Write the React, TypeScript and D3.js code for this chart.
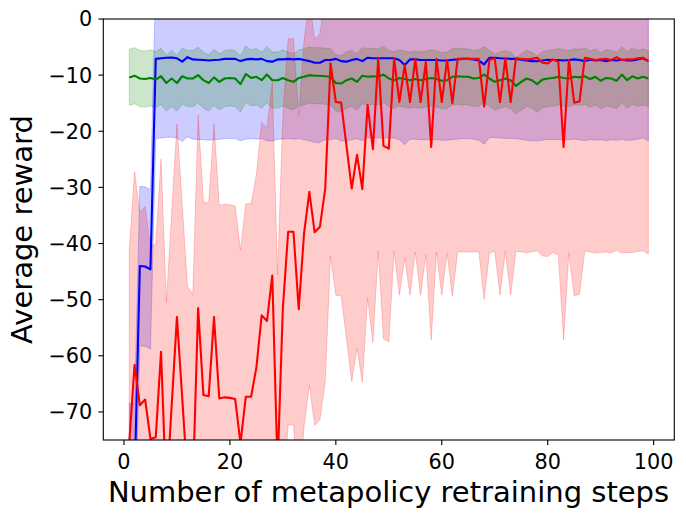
import * as d3 from 'd3';

// metapolicy retraining steps 1..99
const steps = d3.range(1, 100);

const redMean = [
  -75.5, -61.6, -68.8, -67.8, -74.8, -74.5, -59.3, -84.9, -69.0, -53.1,
  -67.5, -82.0, -83.5, -51.5, -67.0, -67.2, -53.1, -67.6, -67.4, -67.5,
  -67.7, -75.6, -67.3, -67.3, -62.1, -52.8, -53.8, -45.7, -80.0, -51.5,
  -37.9, -37.9, -51.7, -38.2, -30.8, -38.0, -37.0, -30.2, -7.9, -14.8,
  -14.9, -22.5, -30.2, -24.2, -30.3, -15.3, -23.2, -7.0, -22.6, -23.1,
  -7.0, -14.8, -8.2, -14.8, -7.1, -14.8, -7.6, -22.8, -7.1, -14.8,
  -7.3, -15.0, -7.1, -7.1, -7.1, -7.1, -7.1, -15.6, -7.3, -7.0,
  -14.8, -7.0, -14.8, -7.0, -7.1, -7.2, -7.1, -6.9, -7.8, -7.9,
  -7.2, -7.6, -22.8, -7.3, -14.9, -14.7, -6.9, -7.1, -7.3, -7.2,
  -7.1, -7.3, -6.8, -7.3, -7.2, -7.2, -7.0, -6.9, -7.5,
];
const redStd = 34.4;

const blueMean = [
  -82.7, -82.7, -44.0, -44.1, -44.6, -7.1, -7.0, -6.9, -6.85, -7.0,
  -7.6, -6.8, -7.2, -7.25, -7.3, -7.4, -7.3, -7.25, -7.1, -7.1,
  -7.1, -7.5, -7.2, -7.1, -7.2, -7.1, -7.5, -7.6, -7.2, -7.2,
  -7.1, -7.2, -7.1, -7.3, -7.5, -7.8, -7.8, -7.3, -7.3, -7.1,
  -7.5, -7.6, -7.3, -7.1, -7.5, -6.9, -7.0, -7.0, -7.0, -7.0,
  -7.0, -7.3, -8.2, -7.2, -7.2, -7.3, -7.3, -7.3, -7.3, -7.4,
  -7.4, -7.25, -7.2, -7.1, -7.1, -7.2, -7.4, -8.1, -6.9, -6.9,
  -7.0, -7.05, -7.1, -7.1, -7.25, -7.4, -7.5, -7.5, -7.4, -7.25,
  -7.3, -7.3, -7.4, -7.3, -7.2, -7.3, -7.5, -7.25, -7.4, -7.3,
  -7.5, -7.3, -7.4, -7.25, -7.4, -7.4, -7.2, -7.0, -7.5,
];
const blueStd = 14.2;

const greenMean = [
  -10.4, -10.1, -10.6, -10.7, -10.5, -10.8, -10.2, -11.4, -10.6, -11.4,
  -10.2, -10.6, -10.6, -10.0, -10.9, -11.4, -10.4, -11.2, -10.6, -10.5,
  -10.6, -11.6, -9.8, -10.5, -10.3, -10.9, -9.9, -10.9, -10.9, -10.5,
  -10.9, -11.2, -10.5, -10.3, -10.0, -10.1, -10.1, -10.2, -10.3, -11.4,
  -11.5, -10.9, -10.6, -11.2, -10.1, -10.3, -10.2, -10.3, -9.9, -10.6,
  -10.9, -10.5, -10.7, -10.9, -10.7, -10.9, -10.7, -10.5, -10.7, -11.0,
  -10.9, -10.3, -10.2, -10.3, -10.3, -10.6, -10.5, -9.9, -10.6, -11.2,
  -10.9, -10.6, -10.9, -11.9, -11.2, -10.6, -10.9, -11.6, -10.8, -10.6,
  -10.5, -10.3, -10.5, -10.6, -10.3, -10.4, -10.2, -10.7, -10.3, -11.0,
  -10.5, -10.6, -11.0, -9.9, -10.9, -10.2, -10.6, -10.3, -10.6,
];
const greenStd = 5.0;

const xTicks = [0, 20, 40, 60, 80, 100];
const yTicks = [0, -10, -20, -30, -40, -50, -60, -70];

const series = [
  { name: 'blue', mean: blueMean, std: blueStd, color: '#0000ff' },
  { name: 'green', mean: greenMean, std: greenStd, color: '#008000' },
  { name: 'red', mean: redMean, std: redStd, color: '#ff0000' },
];

const width = 686;
const height = 517;
const left = 103.3;
const right = 674.3;
const top = 19;
const bottom = 440;

const font = "'DejaVu Sans', sans-serif";

export default function App() {
  const x = d3.scaleLinear().domain([-3.9, 103.9]).range([left, right]);
  const y = d3.scaleLinear().domain([-75, 0]).range([bottom, top]);

  const line = (m: number[]) =>
    d3.line<number>().x((d) => x(d)).y((d, i) => y(m[i]))(steps) || '';

  const band = (m: number[], s: number) =>
    d3.area<number>()
      .x((d) => x(d))
      .y0((d, i) => y(m[i] - s))
      .y1((d, i) => y(m[i] + s))(steps) || '';

  const fmt = (v: number) => (v < 0 ? '\u2212' + Math.abs(v) : String(v));

  return (
    <svg width={width} height={height}
         style={{ position: 'absolute', left: 0, top: 0, background: '#fff' }}>
      <defs>
        <clipPath id="plot-area">
          <rect x={left} y={top} width={right - left} height={bottom - top} />
        </clipPath>
      </defs>
      <g clipPath="url(#plot-area)">
        {/* fills sit below the lines, like matplotlib's zorder */}
        {series.map((s) => (
          <path key={s.name + '-band'} d={band(s.mean, s.std)}
                fill={s.color} fillOpacity={0.2}
                stroke={s.color} strokeOpacity={0.2} strokeWidth={1} />
        ))}
        {series.map((s) => (
          <path key={s.name + '-line'} d={line(s.mean)}
                fill="none" stroke={s.color} strokeWidth={2.1}
                strokeLinejoin="round" />
        ))}
      </g>

      {/* axes frame */}
      <rect x={left} y={top} width={right - left} height={bottom - top}
            fill="none" stroke="#000" strokeWidth={1.1} />

      {xTicks.map((t) => (
        <g key={'x' + t}>
          <line x1={x(t)} x2={x(t)} y1={bottom} y2={bottom + 4.9} stroke="#000" strokeWidth={1.1} />
          <text x={x(t)} y={469.3} textAnchor="middle" fontFamily={font} fontSize={20.8}>{fmt(t)}</text>
        </g>
      ))}
      {yTicks.map((t) => (
        <g key={'y' + t}>
          <line x1={left - 4.9} x2={left} y1={y(t)} y2={y(t)} stroke="#000" strokeWidth={1.1} />
          <text x={92.3} y={y(t)} dy="0.36em" textAnchor="end" fontFamily={font} fontSize={20.8}>{fmt(t)}</text>
        </g>
      ))}

      <text x={388.5} y={502} textAnchor="middle" fontFamily={font} fontSize={29}>
        Number of metapolicy retraining steps
      </text>
      <text transform={`translate(31.7,${(top + bottom) / 2}) rotate(-90)`} textAnchor="middle"
            fontFamily={font} fontSize={29}>
        Average reward
      </text>
    </svg>
  );
}
